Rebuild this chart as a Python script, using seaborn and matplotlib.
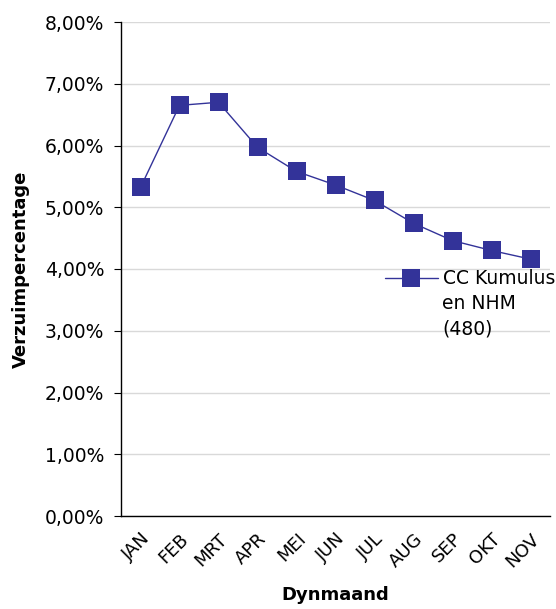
import numpy as np
import pandas as pd
import seaborn as sns
import matplotlib.pyplot as plt
from matplotlib.ticker import FuncFormatter

# data
months = ['JAN', 'FEB', 'MRT', 'APR', 'MEI', 'JUN', 'JUL', 'AUG', 'SEP', 'OKT', 'NOV']
verzuim = [5.32, 6.65, 6.70, 5.97, 5.58, 5.36, 5.11, 4.74, 4.46, 4.30, 4.16]
series_name = 'CC Kumulus'
series_rest = 'en NHM\n(480)'

df = pd.DataFrame({'maand': months, 'pct': verzuim})

sns.set_style('white')
plt.rcParams['font.family'] = ['DejaVu Sans']
plt.rcParams['text.color'] = 'black'
plt.rcParams['axes.labelcolor'] = 'black'
plt.rcParams['xtick.color'] = 'black'
plt.rcParams['ytick.color'] = 'black'

fig = plt.figure(figsize=(5.56, 6.09), dpi=100)
ax = fig.add_axes([121/556, 1 - 516/609, 429/556, 494/609])

sns.lineplot(data=df, x='maand', y='pct', marker='s', markersize=12.5,
             color='#333399', linewidth=1, markeredgewidth=0, sort=False,
             label=series_name, ax=ax)

ax.set_xlim(-0.5, len(months) - 0.5)
ax.set_ylim(0, 8)
ax.set_yticks(np.arange(0, 9, 1))
ax.yaxis.set_major_formatter(FuncFormatter(lambda v, p: f'{v:.2f}%'.replace('.', ',')))
ax.yaxis.grid(True, color='#d9d9d9', linewidth=1)
ax.set_axisbelow(True)

for s in ['top', 'right']:
    ax.spines[s].set_visible(False)
for s in ['left', 'bottom']:
    ax.spines[s].set_color('black')
    ax.spines[s].set_linewidth(1)

ax.tick_params(axis='y', labelsize=13.5, length=5, color='black', left=True, pad=7)
ax.tick_params(axis='x', labelsize=13, length=0, pad=10)
plt.setp(ax.get_xticklabels(), rotation=45, ha='right', rotation_mode='anchor')

ax.set_xlabel('Dynmaand', fontsize=13, fontweight='bold')
ax.xaxis.set_label_coords(0.5, (516 - 586) / 494)
ax.set_ylabel('Verzuimpercentage', fontsize=13, fontweight='bold', labelpad=11)

ax.legend(loc='center left', bbox_to_anchor=(385/556, 1 - 279/609),
          bbox_transform=fig.transFigure, frameon=False, fontsize=13.5,
          borderpad=0, borderaxespad=0, handlelength=2.8, handletextpad=0.3)
fig.text(442/556, 1 - 294/609, series_rest, fontsize=13.5, va='top', ha='left',
         linespacing=1.4)

fig.savefig('out.png', dpi=100)
